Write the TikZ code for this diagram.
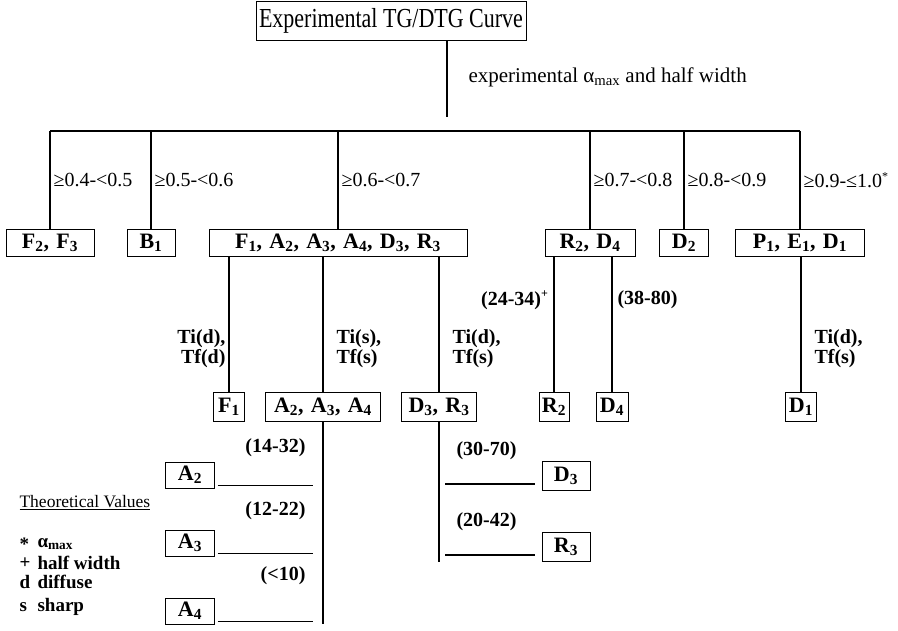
\documentclass[tikz,border=0pt]{standalone}
\usepackage{fontspec}
\setmainfont{Liberation Serif}
\newfontfamily\boxfont{Liberation Serif}[LetterSpace=8]
\usetikzlibrary{positioning}

\begin{document}
\begin{tikzpicture}[x=1pt, y=-1pt, line width=1.1pt,
  box/.style={draw, line width=0.9pt, inner sep=0pt, minimum height=27pt,
    font=\boxfont\fontsize{22}{24}\selectfont\bfseries},
  lbl/.style={font=\fontsize{20}{20}\selectfont, inner sep=1pt},
  blbl/.style={font=\fontsize{20}{20}\selectfont\bfseries, align=left, inner sep=1pt}]
  \useasboundingbox (0,0) rectangle (898,631);
  % top of the tree
  \node[box, minimum width=270pt, minimum height=39pt, font=\fontsize{22}{26}\selectfont] (curve) at (391,21) {\scalebox{1}[1.25]{Experimental TG/DTG Curve}};
  \coordinate (bus) at (0,131);
  \node[box, minimum width=88pt] (f23) at (50,243) {F\textsubscript{2}, F\textsubscript{3}};
  \node[box, minimum width=48pt] (b1) at (151,243) {B\textsubscript{1}};
  \node[box, minimum width=258pt] (fall) at (338,243) {F\textsubscript{1}, A\textsubscript{2}, A\textsubscript{3}, A\textsubscript{4}, D\textsubscript{3}, R\textsubscript{3}};
  \node[box, minimum width=90pt] (r2d4) at (590,243) {R\textsubscript{2}, D\textsubscript{4}};
  \node[box, minimum width=49pt] (d2) at (684,243) {D\textsubscript{2}};
  \node[box, minimum width=129pt] (p1) at (800,243) {P\textsubscript{1}, E\textsubscript{1}, D\textsubscript{1}};
  \draw[shorten >=14pt] ([xshift=56pt]curve.south) -- ([xshift=56pt]curve.south |- bus)
     node[pos=0.4, right=20pt, lbl, font=\fontsize{21}{21}\selectfont] {experimental α\textsubscript{max} and half width};
  \draw (f23.north |- bus) -- (p1.north |- bus);
  \foreach \n/\t in {f23/{≥0.4-<0.5}, b1/{≥0.5-<0.6}, fall/{≥0.6-<0.7},
                     r2d4/{≥0.7-<0.8}, d2/{≥0.8-<0.9}, p1/{≥0.9-≤1.0\textsuperscript{\large*}}}{
     \draw (\n.north |- bus) -- (\n.north) node[midway, right=2pt, lbl] {\t};
  }
  % second row
  \node[box, minimum width=31pt, minimum height=29pt] (f1) at (229,407) {F\textsubscript{1}};
  \node[box, minimum width=115pt, minimum height=29pt] (a234) at (323,407) {A\textsubscript{2}, A\textsubscript{3}, A\textsubscript{4}};
  \node[box, minimum width=75pt, minimum height=29pt] (d3r3) at (439,407) {D\textsubscript{3}, R\textsubscript{3}};
  \node[box, minimum width=30pt, minimum height=29pt] (r2) at (554,407) {R\textsubscript{2}};
  \node[box, minimum width=32pt, minimum height=29pt] (d4) at (612,407) {D\textsubscript{4}};
  \node[box, minimum width=31pt, minimum height=29pt] (d1) at (801,407) {D\textsubscript{1}};
  \draw (f1.north |- fall.south) -- (f1.north) node[pos=0.68, left=2pt, blbl, align=right] {Ti(d),\\Tf(d)};
  \draw (a234.north |- fall.south) -- (a234.north) node[pos=0.68, right=12pt, blbl] {Ti(s),\\Tf(s)};
  \draw (d3r3.north |- fall.south) -- (d3r3.north) node[pos=0.68, right=12pt, blbl] {Ti(d),\\Tf(s)};
  \draw (r2.north |- r2d4.south) -- (r2.north) node[pos=0.32, left=4pt, blbl] {(24-34)\textsuperscript{\large+}};
  \draw (d4.north |- r2d4.south) -- (d4.north) node[pos=0.32, right=4pt, blbl] {(38-80)};
  \draw (d1.north |- p1.south) -- (d1.north) node[pos=0.68, right=12pt, blbl] {Ti(d),\\Tf(s)};
  % A and D leaves
  \node[box, minimum width=49pt, minimum height=26pt] (a2l) at (190,475) {A\textsubscript{2}};
  \node[box, minimum width=49pt, minimum height=26pt] (a3l) at (190,543) {A\textsubscript{3}};
  \node[box, minimum width=49pt, minimum height=26pt] (a4l) at (190,611) {A\textsubscript{4}};
  \node[box, minimum width=48pt, minimum height=29pt] (d3l) at (566,476) {D\textsubscript{3}};
  \node[box, minimum width=48pt, minimum height=29pt] (r3l) at (566,547) {R\textsubscript{3}};
  \draw (a234.south) -- (a234.south |- a4l.south);
  \draw (d3r3.south) -- (d3r3.south |- r3l.south);
  \foreach \n in {a2l, a3l, a4l}{
     \draw[shorten <=3pt, shorten >=10pt] ([yshift=3pt]\n.south east) -- ([yshift=3pt]\n.south east -| a234.south);
  }
  \foreach \n in {d3l, r3l}{
     \draw[shorten <=6pt, shorten >=7pt] ([yshift=7pt]\n.south west -| d3r3.south) -- ([yshift=7pt]\n.south west);
  }
  \node[blbl, anchor=east] (v14) at (307,448) {(14-32)};
  \node[blbl, anchor=east] (v12) at (307,511) {(12-22)};
  \node[blbl, anchor=east] (v10) at (307,576) {(<10)};
  \node[blbl, anchor=west] (v30) at (455,451) {(30-70)};
  \node[blbl, anchor=west] (v20) at (455,522) {(20-42)};
  % legend
  \node[lbl, anchor=west, font=\fontsize{17.5}{18}\selectfont] (theo) at (18,503) {\underline{Theoretical Values}};
  \foreach \s/\t/\y in {*/{α\textsubscript{max}}/544, +/{half width}/563, d/{diffuse}/582, s/{sharp}/607}{
     \node[blbl, anchor=west, font=\fontsize{19}{19}\selectfont\bfseries] at (18,\y) {\s};
     \node[blbl, anchor=west, font=\fontsize{19}{19}\selectfont\bfseries] at (36,\y) {\t};
  }
\end{tikzpicture}
\end{document}
